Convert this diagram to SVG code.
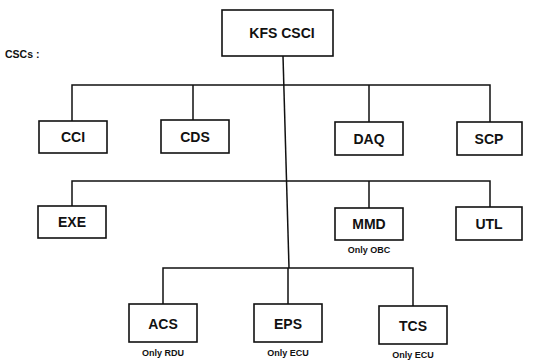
<svg xmlns="http://www.w3.org/2000/svg" width="536" height="362" viewBox="0 0 536 362">
<style>
.box{fill:#fff;stroke:#111;stroke-width:1.6}
.lbl{font-family:"Liberation Sans",Arial,sans-serif;font-weight:bold;font-size:14px;fill:#111;text-anchor:middle}
.note{font-family:"Liberation Sans",Arial,sans-serif;font-weight:bold;font-size:9px;fill:#111;text-anchor:middle}
.con{fill:none;stroke:#111;stroke-width:1.5}
</style>
<rect width="536" height="362" fill="#fff"/>
<text x="5" y="58" font-family="Liberation Sans, Arial, sans-serif" font-weight="bold" font-size="10.5" fill="#111">CSCs :</text>
<g id="connectors">
<path class="con" d="M283 56 L289 268"/>
<path class="con" d="M72 121 V85 H490 V122 M193 120 V85 M369 122 V85"/>
<path class="con" d="M72 206 V181 H490 V207 M369 208 V181"/>
<path class="con" d="M163 304 V268 H413 V306 M288 304 V268"/>
</g>
<g id="kfs"><rect class="box" x="222" y="10" width="111" height="46"/><text class="lbl" x="282" y="38" font-size="12.5">KFS CSCI</text></g>
<g id="cci"><rect class="box" x="39" y="121" width="68" height="32"/><text class="lbl" x="73" y="142">CCI</text></g>
<g id="cds"><rect class="box" x="161" y="120" width="68" height="33"/><text class="lbl" x="195" y="142">CDS</text></g>
<g id="daq"><rect class="box" x="335" y="122" width="68" height="33"/><text class="lbl" x="369" y="144">DAQ</text></g>
<g id="scp"><rect class="box" x="457" y="122" width="65" height="33"/><text class="lbl" x="489" y="144">SCP</text></g>
<g id="exe"><rect class="box" x="38" y="206" width="68" height="32"/><text class="lbl" x="72" y="227">EXE</text></g>
<g id="mmd"><rect class="box" x="335" y="208" width="68" height="32"/><text class="lbl" x="369" y="229">MMD</text><text class="note" x="369" y="253">Only OBC</text></g>
<g id="utl"><rect class="box" x="456" y="207" width="66" height="33"/><text class="lbl" x="489" y="229">UTL</text></g>
<g id="acs"><rect class="box" x="129" y="304" width="68" height="38"/><text class="lbl" x="163" y="329" font-size="16">ACS</text><text class="note" x="163" y="356">Only RDU</text></g>
<g id="eps"><rect class="box" x="254" y="304" width="68" height="38"/><text class="lbl" x="288" y="329" font-size="16">EPS</text><text class="note" x="288" y="356">Only ECU</text></g>
<g id="tcs"><rect class="box" x="379" y="306" width="68" height="38"/><text class="lbl" x="413" y="331" font-size="16">TCS</text><text class="note" x="413" y="358">Only ECU</text></g>
</svg>
